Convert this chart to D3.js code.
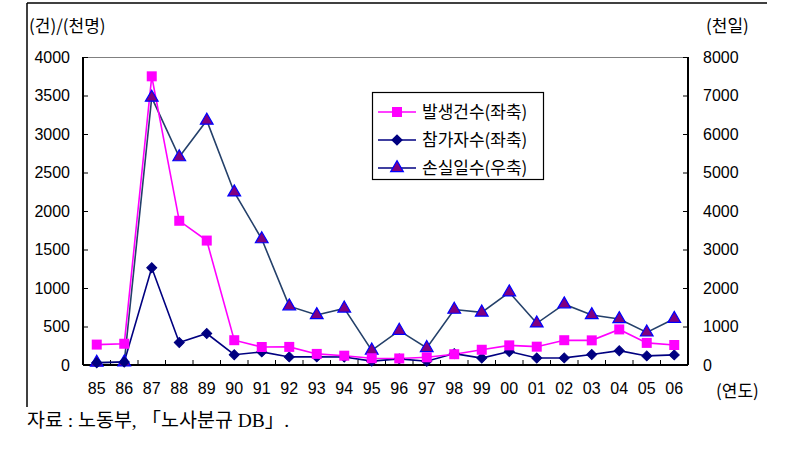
<!DOCTYPE html>
<html><head><meta charset="utf-8">
<script src="https://cdn.jsdelivr.net/npm/d3@7"></script>
<style>
html,body{margin:0;padding:0;background:#fff;}
svg{display:block;}
</style></head>
<body>
<svg id="chart" width="792" height="455"></svg>
<script>
const years = ["85","86","87","88","89","90","91","92","93","94","95","96","97","98","99","00","01","02","03","04","05","06"];
const disputes = [265,276,3749,1873,1616,322,234,235,144,121,88,85,100,140,198,255,238,322,320,462,287,260];
const participants = [29,40,1262,293,409,134,170,105,105,104,50,79,48,148,90,176,90,92,137,186,118,131];
const lostDays = [64,72,6947,5401,6351,4487,3271,1528,1300,1470,380,893,445,1440,1366,1890,1083,1580,1299,1195,848,1201];
const leftTicks = [0,500,1000,1500,2000,2500,3000,3500,4000];
const rightTicks = [0,1000,2000,3000,4000,5000,6000,7000,8000];
const seriesNames = ["발생건수(좌축)","참가자수(좌축)","손실일수(우축)"];

const svg = d3.select("#chart");
const L = 83, R = 688, T = 57, B = 365;
const x = d3.scaleBand().domain(years).range([L, R]).padding(0);
const yL = d3.scaleLinear().domain([0,4000]).range([B, T]);
const yR = d3.scaleLinear().domain([0,8000]).range([B, T]);
const cx = d => x(d) + x.bandwidth()/2;
const numFont = "'Liberation Sans', Arial, sans-serif";
const korFont = "'Noto Sans CJK KR', 'Liberation Sans', sans-serif";

// outer frame
svg.append("line").attr("x1",27).attr("x2",767).attr("y1",3).attr("y2",3).attr("stroke","#000").attr("stroke-width",1.5);
svg.append("line").attr("x1",27).attr("x2",27).attr("y1",3).attr("y2",407).attr("stroke","#000").attr("stroke-width",1.5);

// plot top border
svg.append("line").attr("x1",L).attr("x2",R).attr("y1",T+0.5).attr("y2",T+0.5).attr("stroke","#808080").attr("stroke-width",1);

// left axis
const gl = svg.append("g").attr("transform",`translate(${L},0)`)
  .call(d3.axisLeft(yL).tickValues(leftTicks).tickSize(-5).tickPadding(13).tickFormat(d3.format("d")));
// right axis
const gr = svg.append("g").attr("transform",`translate(${R},0)`)
  .call(d3.axisRight(yR).tickValues(rightTicks).tickSize(-5).tickPadding(15).tickFormat(d3.format("d")));
// bottom axis
const boundaries = years.slice(1).map(d => x(d));
const gb = svg.append("g").attr("transform",`translate(0,${B})`)
  .call(d3.axisBottom(x).tickSize(0).tickPadding(18));
gb.selectAll(".tick line").remove();
gb.selectAll(".bt").data(boundaries).enter().append("line")
  .attr("x1",d=>d).attr("x2",d=>d).attr("y1",0).attr("y2",-5).attr("stroke","#000");

[gl,gr,gb].forEach(g=>{
  g.select(".domain").attr("stroke","#000").attr("stroke-width",2);
  g.selectAll(".tick line").attr("stroke","#000").attr("stroke-width",1);
  g.selectAll("text").attr("font-family",numFont).attr("font-size",16).attr("fill","#000");
});
gr.select(".domain").attr("d",`M0,${T}V${B}`);
gl.select(".domain").attr("d",`M0,${T}V${B}`);
gb.select(".domain").attr("d",`M${L},0H${R}`);

// axis titles
svg.append("text").attr("x",29).attr("y",32).attr("font-family",korFont).attr("font-size",17).text("(건)/(천명)");
svg.append("text").attr("x",706).attr("y",32).attr("font-family",korFont).attr("font-size",17).text("(천일)");
svg.append("text").attr("x",716).attr("y",397).attr("font-family",korFont).attr("font-size",17).text("(연도)");
// caption
svg.append("text").attr("x",27).attr("y",427).attr("font-family","'Liberation Serif', 'Noto Sans CJK KR', serif").attr("font-size",19.5).text("자료 : 노동부, 「노사분규 DB」.");

// series
const lineL = d3.line().x((d,i)=>cx(years[i])).y(d=>yL(d));
const lineR = d3.line().x((d,i)=>cx(years[i])).y(d=>yR(d));
const triColor = "#24406a";

svg.append("path").datum(lostDays).attr("d",lineR).attr("fill","none").attr("stroke",triColor).attr("stroke-width",1.6);
svg.append("path").datum(participants).attr("d",lineL).attr("fill","none").attr("stroke","#000080").attr("stroke-width",1.6);
svg.append("path").datum(disputes).attr("d",lineL).attr("fill","none").attr("stroke","#ff00ff").attr("stroke-width",1.6);

const sq = d3.symbol().type(d3.symbolSquare).size(100);
const dia = d3.symbol().type(d3.symbolSquare).size(50);
const tri = d3.symbol().type(d3.symbolTriangle).size(70);

svg.append("g").selectAll("path").data(lostDays).enter().append("path")
  .attr("d",tri).attr("transform",(d,i)=>`translate(${cx(years[i])},${yR(d)})`)
  .attr("fill","#800080").attr("stroke","#0000ff").attr("stroke-width",1.2);
svg.append("g").selectAll("path").data(participants).enter().append("path")
  .attr("d",dia).attr("transform",(d,i)=>`translate(${cx(years[i])},${yL(d)}) rotate(45)`)
  .attr("fill","#000080").attr("stroke","#000080").attr("stroke-width",1);
svg.append("g").selectAll("path").data(disputes).enter().append("path")
  .attr("d",sq).attr("transform",(d,i)=>`translate(${cx(years[i])},${yL(d)})`)
  .attr("fill","#ff00ff");

// legend
const lg = svg.append("g");
lg.append("rect").attr("x",372.5).attr("y",92.5).attr("width",171).attr("height",87).attr("fill","#fff").attr("stroke","#000").attr("stroke-width",1.2);
const legY = [112,140,168];
const legStyles = [
  {line:"#ff00ff", sym:sq, fill:"#ff00ff", stroke:"none", rot:0},
  {line:"#000080", sym:dia, fill:"#000080", stroke:"#000080", rot:45},
  {line:"#000080", sym:tri, fill:"#800080", stroke:"#0000ff", rot:0}
];
seriesNames.forEach((name,i)=>{
  const st = legStyles[i];
  lg.append("line").attr("x1",378).attr("x2",416).attr("y1",legY[i]).attr("y2",legY[i]).attr("stroke",st.line).attr("stroke-width",1.5);
  lg.append("path").attr("d",st.sym).attr("transform",`translate(397,${legY[i]}) rotate(${st.rot})`).attr("fill",st.fill).attr("stroke",st.stroke).attr("stroke-width",1.2);
  lg.append("text").attr("x",422).attr("y",legY[i]+6).attr("font-family",korFont).attr("font-size",17).text(name);
});
</script>
</body></html>
